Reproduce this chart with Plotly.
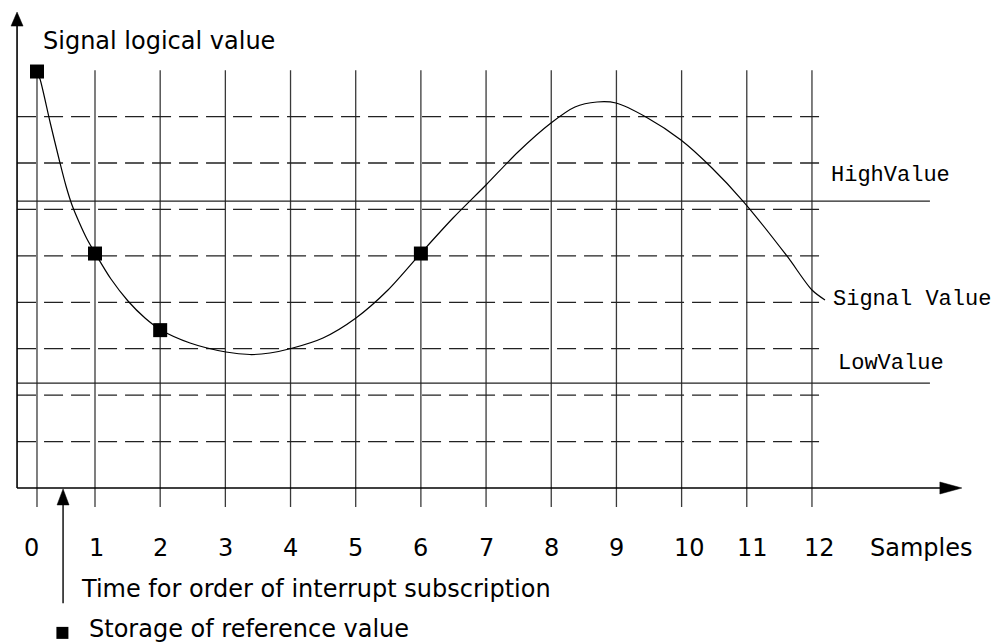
import plotly.graph_objects as go

# ---------------- data ----------------
sample_labels = ["0", "1", "2", "3", "4", "5", "6", "7", "8", "9", "10", "11", "12"]
sample_x = [0.11, 1, 2, 3, 4, 5, 6, 7, 8, 9, 10, 11, 12]          # grid line per sample
label_x = [0.03, 1.02, 2, 3, 4, 5, 6, 7, 8, 9, 10.12, 11.08, 12.12]  # tick label positions
level_y = [1, 2, 3, 4, 5, 6, 7, 8]                                # dashed levels
high_value = 6.18
low_value = 2.26

curve_x = [0.110, 0.156, 0.310, 0.463, 0.555, 0.647, 0.755, 0.877, 1.000, 1.245,
           1.506, 1.767, 2.013, 2.458, 3.010, 3.378, 3.685, 4.007, 4.498, 5.004,
           5.495, 6.002, 6.493, 6.999, 7.490, 7.996, 8.364, 8.702, 8.993, 9.453,
           9.990, 10.466, 10.941, 11.616, 12.000, 12.200]
curve_y = [8.960, 8.809, 7.883, 7.000, 6.504, 6.095, 5.729, 5.363, 5.061, 4.501,
           4.028, 3.662, 3.403, 3.123, 2.929, 2.875, 2.908, 3.004, 3.231, 3.662,
           4.264, 5.061, 5.815, 6.526, 7.237, 7.861, 8.206, 8.313, 8.292, 7.991,
           7.495, 6.892, 6.181, 4.997, 4.264, 4.049]

ref_x = [0.11, 1, 2, 6]
ref_y = [8.97, 5.05, 3.40, 5.05]

interrupt_x = 0.51

# ---------------- geometry / style ----------------
FIG_W, FIG_H = 992, 635   # page has an 8px body margin
PX_X = 65.18   # pixels per sample
PX_Y = 46.43   # pixels per level
X_RANGE = [-0.3348, 14.885]
Y_RANGE = [-3.338, 10.338]
AXIS_X0 = -0.196
X_TIP = 14.30
Y_TIP = 10.25
GRID_TOP = 9.0
GRID_BOTTOM = -0.41
DASH_END = 12.2
THRESH_END = 13.81
INTERRUPT_BOTTOM = -2.48

SANS = "DejaVu Sans, Arial, sans-serif"
MONO = "Courier New, Liberation Mono, monospace"

fig = go.Figure()

# vertical grid lines
vx, vy = [], []
for g in sample_x:
    vx += [g, g, None]
    vy += [GRID_BOTTOM, GRID_TOP, None]
fig.add_trace(go.Scatter(x=vx, y=vy, mode="lines",
                         line=dict(color="#3a3a3a", width=1.3),
                         hoverinfo="skip", showlegend=False))

# dashed level lines
dx, dy = [], []
for lv in level_y:
    dx += [AXIS_X0, DASH_END, None]
    dy += [lv, lv, None]
fig.add_trace(go.Scatter(x=dx, y=dy, mode="lines",
                         line=dict(color="#222222", width=1.3, dash="19px,8px"),
                         hoverinfo="skip", showlegend=False))

# high / low thresholds
for v in (high_value, low_value):
    fig.add_trace(go.Scatter(x=[AXIS_X0, THRESH_END], y=[v, v], mode="lines",
                             line=dict(color="#222222", width=1.3),
                             hoverinfo="skip", showlegend=False))

# axes
fig.add_trace(go.Scatter(x=[AXIS_X0, X_TIP - 20 / PX_X], y=[0, 0], mode="lines",
                         line=dict(color="black", width=1.6),
                         hoverinfo="skip", showlegend=False))
fig.add_trace(go.Scatter(x=[AXIS_X0, AXIS_X0], y=[0, Y_TIP - 12 / PX_Y], mode="lines",
                         line=dict(color="black", width=1.6),
                         hoverinfo="skip", showlegend=False))
# interrupt arrow shaft
fig.add_trace(go.Scatter(x=[interrupt_x, interrupt_x], y=[INTERRUPT_BOTTOM, -14 / PX_Y],
                         mode="lines", line=dict(color="black", width=1.4),
                         hoverinfo="skip", showlegend=False))

# signal curve
fig.add_trace(go.Scatter(x=curve_x, y=curve_y, mode="lines",
                         line=dict(color="black", width=1.2, shape="spline", smoothing=0.8),
                         hoverinfo="skip", showlegend=False))
# reference value markers
fig.add_trace(go.Scatter(x=ref_x, y=ref_y, mode="markers",
                         marker=dict(symbol="square", size=14, color="black", line=dict(width=0)),
                         hoverinfo="skip", showlegend=False))
# legend marker
fig.add_trace(go.Scatter(x=[interrupt_x - 0.01], y=[-3.12], mode="markers",
                         marker=dict(symbol="square", size=12, color="black", line=dict(width=0)),
                         hoverinfo="skip", showlegend=False))


def tri(tip_x, tip_y, direction, length_px, half_px):
    if direction == "up":
        bx = half_px / PX_X
        by = tip_y - length_px / PX_Y
        return f"M {tip_x} {tip_y} L {tip_x - bx} {by} L {tip_x + bx} {by} Z"
    ax = tip_x - length_px / PX_X
    hy = half_px / PX_Y
    return f"M {tip_x} {tip_y} L {ax} {tip_y - hy} L {ax} {tip_y + hy} Z"


for p in (tri(AXIS_X0, Y_TIP, "up", 14, 6),
          tri(X_TIP, 0, "right", 22, 6),
          tri(interrupt_x, -0.02, "up", 16, 6)):
    fig.add_shape(type="path", path=p, xref="x", yref="y",
                  fillcolor="black", line=dict(color="black", width=0.5))

# ---------------- texts ----------------
ann = []
for lx, lab in zip(label_x, sample_labels):
    ann.append(dict(x=lx, y=-1.29, text=lab, xanchor="center", yanchor="middle",
                    font=dict(family=SANS, size=24, color="black")))
ann.append(dict(x=12.86, y=-1.29, text="Samples", xanchor="left", yanchor="middle",
                font=dict(family=SANS, size=24, color="black")))
ann.append(dict(x=0.17, y=9.62, text="Signal logical value", xanchor="left", yanchor="middle",
                font=dict(family=SANS, size=24, color="black")))
ann.append(dict(x=0.76, y=-2.18, text="Time for order of interrupt subscription",
                xanchor="left", yanchor="middle",
                font=dict(family=SANS, size=24, color="black")))
ann.append(dict(x=0.875, y=-3.04, text="Storage of reference value",
                xanchor="left", yanchor="middle",
                font=dict(family=SANS, size=24, color="black")))
ann.append(dict(x=12.26, y=6.74, text="HighValue", xanchor="left", yanchor="middle",
                font=dict(family=MONO, size=22, color="black")))
ann.append(dict(x=12.29, y=4.05, text="Signal Value", xanchor="left", yanchor="middle",
                font=dict(family=MONO, size=22, color="black")))
ann.append(dict(x=12.37, y=2.69, text="LowValue", xanchor="left", yanchor="middle",
                font=dict(family=MONO, size=22, color="black")))
for a in ann:
    a.update(showarrow=False, xref="x", yref="y")

fig.update_layout(
    width=FIG_W, height=FIG_H, autosize=False,
    margin=dict(l=0, r=0, t=0, b=0, pad=0),
    paper_bgcolor="white", plot_bgcolor="white",
    xaxis=dict(range=X_RANGE, visible=False, fixedrange=True),
    yaxis=dict(range=Y_RANGE, visible=False, fixedrange=True),
    annotations=ann,
    showlegend=False,
)

fig.write_html("out.html")
